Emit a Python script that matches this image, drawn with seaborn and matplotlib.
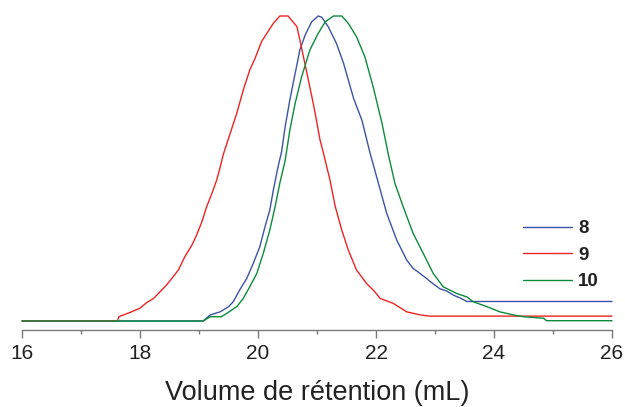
import numpy as np
import pandas as pd
import matplotlib
matplotlib.use("Agg")
import matplotlib.pyplot as plt
import seaborn as sns

# ---- data (retention volume in mL, normalized intensity in %) ----
x_8 = [16.00, 19.07, 19.19, 19.36, 19.50, 19.58, 19.69, 19.81, 19.92, 20.03, 20.12, 20.20,
       20.26, 20.34, 20.40, 20.46, 20.54, 20.63, 20.71, 20.80, 20.91, 21.02, 21.08, 21.19,
       21.33, 21.45, 21.62, 21.76, 21.90, 22.04, 22.18, 22.35, 22.52, 22.63, 22.69, 22.86,
       22.92, 23.08, 23.20, 23.31, 23.42, 23.54, 26.00]
y_8 = [0.0, 0.0, 2.0, 3.0, 4.7, 6.3, 10.2, 14.0, 18.9, 24.3, 31.0, 36.4,
       42.9, 50.6, 55.5, 63.7, 72.5, 81.2, 88.9, 93.8, 98.1, 100.0, 99.6, 96.5,
       91.0, 84.5, 73.0, 65.9, 55.0, 45.2, 35.4, 26.6, 20.0, 17.2, 16.4, 13.9,
       12.9, 10.6, 9.8, 8.5, 7.6, 6.4, 6.4]

x_9 = [16.00, 17.62, 17.64, 17.83, 18.00, 18.11, 18.23, 18.34, 18.45, 18.54, 18.65, 18.76,
       18.88, 18.96, 19.05, 19.13, 19.22, 19.30, 19.36, 19.41, 19.53, 19.64, 19.75, 19.86,
       19.95, 20.06, 20.17, 20.26, 20.37, 20.51, 20.66, 20.71, 20.83, 20.94, 20.99, 21.05,
       21.11, 21.22, 21.31, 21.42, 21.53, 21.67, 21.84, 21.98, 22.07, 22.29, 22.52, 22.75,
       22.90, 26.00]
y_9 = [0.0, 0.0, 1.4, 2.8, 4.2, 6.0, 7.4, 9.6, 11.8, 14.0, 16.7, 21.1,
       24.9, 28.2, 32.6, 37.5, 41.9, 46.2, 50.5, 54.5, 61.6, 68.1, 75.7, 82.3,
       86.1, 91.6, 94.9, 97.6, 100.0, 100.0, 96.5, 92.1, 81.2, 71.0, 65.9, 59.5,
       55.0, 46.2, 37.5, 29.8, 23.3, 16.7, 12.3, 9.6, 7.4, 5.8, 3.0, 2.0,
       1.6, 1.6]

x_10 = [16.00, 19.07, 19.19, 19.38, 19.47, 19.64, 19.75, 19.86, 19.98, 20.09, 20.20, 20.29,
        20.37, 20.46, 20.54, 20.63, 20.74, 20.88, 21.02, 21.14, 21.28, 21.42, 21.53, 21.67,
        21.81, 21.95, 22.10, 22.21, 22.32, 22.46, 22.63, 22.80, 22.97, 23.14, 23.37, 23.54,
        23.65, 23.88, 24.10, 24.33, 24.50, 24.84, 24.89, 26.00]
y_10 = [0.0, 0.0, 1.4, 1.4, 2.5, 4.7, 7.4, 11.2, 15.6, 22.2, 29.8, 37.5,
        45.2, 52.6, 62.6, 71.4, 80.1, 88.9, 94.3, 98.1, 100.0, 100.0, 97.6, 93.2,
        86.7, 76.9, 65.0, 54.5, 45.2, 37.5, 28.7, 22.2, 15.6, 11.2, 9.0, 7.9,
        6.3, 4.7, 3.0, 2.0, 1.4, 0.9, 0.1, 0.1]

samples = ["8", "9", "10"]
colors = ["#3B54A5", "#EE2424", "#0B8B3C"]
x_ticks = [16, 18, 20, 22, 24, 26]
x_label = "Volume de rétention (mL)"

# ---- build table ----
frames = []
for name, xs, ys in zip(samples, [x_8, x_9, x_10], [y_8, y_9, y_10]):
    frames.append(pd.DataFrame({"V": xs, "I": ys, "sample": name}))
df = pd.concat(frames, ignore_index=True)

sns.set_style("white")
plt.rcParams["font.family"] = ["Liberation Sans", "DejaVu Sans"]

W, H = 625, 407
fig = plt.figure(figsize=(W / 100, H / 100), dpi=100)
# axes: x 22..612 px, y 10..330 px
ax = fig.add_axes([22 / W, 1 - 330 / H, 590 / W, 320 / H])

sns.lineplot(data=df, x="V", y="I", hue="sample", hue_order=samples,
             palette=dict(zip(samples, colors)), estimator=None, sort=False,
             linewidth=1.0, legend=False, ax=ax)
for ln in ax.lines:
    ln.set_clip_on(False)

# baseline 0 at 321 px, 100 at 16 px -> 3.05 px per unit
ax.set_xlim(16, 26)
ax.set_ylim(-9 / 3.05, 100 + 6 / 3.05)

for s in ["top", "right", "left"]:
    ax.spines[s].set_visible(False)
ax.spines["bottom"].set_color("#7a7a7a")
ax.spines["bottom"].set_linewidth(1.0)
ax.set_yticks([])
ax.set_xticks(x_ticks)
ax.set_xticks([17, 19, 21, 23, 25], minor=True)
ax.tick_params(axis="x", which="major", length=6, width=1.0, color="#7a7a7a",
               direction="out", labelsize=15, pad=4, labelcolor="#222222", bottom=True)
ax.tick_params(axis="x", which="minor", length=3, width=1.0, color="#7a7a7a",
               direction="out", bottom=True)
ax.set_xlabel(x_label, fontsize=19.5, color="#222222", labelpad=12)
ax.set_ylabel("")

leg = ax.legend(handles=ax.lines[:3], labels=samples, loc="upper left",
                bbox_to_anchor=(523 / W, 1 - 220 / H), bbox_transform=fig.transFigure,
                frameon=False, borderpad=0, borderaxespad=0,
                handlelength=2.6, handletextpad=0.33, labelspacing=0.5,
                prop={"weight": "bold", "size": 13.5})
for t in leg.get_texts():
    t.set_color("#222222")

fig.savefig("out.png", dpi=100)
